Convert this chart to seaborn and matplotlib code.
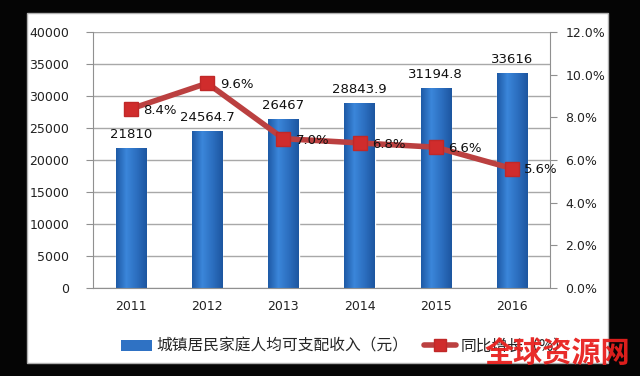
import numpy as np
import pandas as pd
import seaborn as sns
import matplotlib.pyplot as plt
from matplotlib.patches import Rectangle, Patch
from matplotlib.lines import Line2D
from matplotlib.colors import LinearSegmentedColormap

years = ['2011', '2012', '2013', '2014', '2015', '2016']
income = [21810, 24564.7, 26467, 28843.9, 31194.8, 33616]
income_labels = ['21810', '24564.7', '26467', '28843.9', '31194.8', '33616']
growth = [8.4, 9.6, 7.0, 6.8, 6.6, 5.6]
growth_labels = ['8.4%', '9.6%', '7.0%', '6.8%', '6.6%', '5.6%']
bar_name = '城镇居民家庭人均可支配收入（元）'
line_name = '同比增长（%）'

df = pd.DataFrame({'year': years, 'income': income, 'growth': growth})

sns.set_style('white')
plt.rcParams['font.family'] = ['DejaVu Sans', 'Noto Sans CJK SC']

fig = plt.figure(figsize=(6.4, 3.76), dpi=100, facecolor='#050505')
# white panel on black background
fig.patches.append(Rectangle((27/640, 1-363/376), (608-27)/640, (363-13)/376,
                             transform=fig.transFigure, facecolor='white',
                             edgecolor='#b0b0b0', lw=1, zorder=-5))

ax = fig.add_axes([93/640, 1-288/376, (550-93)/640, (288-32)/376])
ax.set_facecolor('none')
sns.barplot(data=df, x='year', y='income', color='#2f72c4', width=0.4,
            saturation=1, ax=ax, zorder=2)
ax.set_ylim(0, 40000)

# horizontal gradient on each bar, like the office chart style
grad_cmap = LinearSegmentedColormap.from_list('bar', ['#1e5aa6', '#3b86da', '#2c6fc0', '#1d56a0'])
grad = np.linspace(0, 1, 64).reshape(1, -1)
for p in ax.patches:
    x0, y0 = p.get_x(), p.get_y()
    im = ax.imshow(grad, cmap=grad_cmap, aspect='auto', zorder=2.5,
                   extent=[x0, x0 + p.get_width(), y0, y0 + p.get_height()])
    im.set_clip_path(p)
ax.set_xlim(-0.5, len(years) - 0.5)
ax.set_ylim(0, 40000)

ax.set_yticks(range(0, 40001, 5000))
ax.yaxis.grid(True, color='#a8a8a8', lw=1)
ax.set_axisbelow(True)
ax.set_xlabel('')
ax.set_ylabel('')
for s in ['top', 'right']:
    ax.spines[s].set_visible(False)
for s in ['left', 'bottom']:
    ax.spines[s].set_color('#909090')
ax.tick_params(axis='y', direction='out', length=5, color='#909090',
               labelsize=9, labelcolor='#222222', pad=12, left=True)
ax.tick_params(axis='x', length=0, labelsize=9, labelcolor='#222222', pad=9)
for i, v in enumerate(income):
    ax.annotate(income_labels[i], (i, v), xytext=(0, 5), textcoords='offset points',
                ha='center', va='bottom', fontsize=9.5, color='#111111')

ax2 = ax.twinx()
ax2.plot(range(len(years)), growth, color='#bb4040', lw=4, marker='s',
         markersize=10, markerfacecolor='#d02c2c', markeredgecolor='#c02828',
         zorder=3)
ax2.set_ylim(0, 12)
ax2.set_yticks(np.arange(0, 12.01, 2))
ax2.set_yticklabels([f'{t:.1f}%' for t in np.arange(0, 12.01, 2)])
for s in ['top', 'left', 'bottom']:
    ax2.spines[s].set_visible(False)
ax2.spines['right'].set_color('#909090')
ax2.tick_params(axis='y', direction='out', length=5, color='#909090',
                labelsize=9, labelcolor='#222222', pad=6, right=True)
ax2.set_xlim(ax.get_xlim())
for i, v in enumerate(growth):
    ax2.annotate(growth_labels[i], (i, v), xytext=(9, -1), textcoords='offset points',
                 ha='left', va='center', fontsize=9.5, color='#111111')

handles = [Patch(facecolor='#2f72c4', edgecolor='none'),
           Line2D([0], [0], color='#bb4040', lw=4, marker='s', markersize=9,
                  markerfacecolor='#d02c2c', markeredgecolor='#c02828')]
fig.legend(handles, [bar_name, line_name], loc='center',
           bbox_to_anchor=(345/640, 1-346/376), ncol=2, frameon=False,
           handlelength=2.0, handletextpad=0.3, columnspacing=1.0,
           prop={'family': ['Noto Sans CJK SC'], 'size': 11.3})

fig.text(557/640, 1-353/376, '全球资源网', color='#e8201e', fontsize=21,
         fontweight='bold', ha='center', va='center',
         family=['Noto Sans CJK SC'], alpha=0.95, zorder=10)

fig.savefig('out.png', dpi=100, facecolor=fig.get_facecolor())
